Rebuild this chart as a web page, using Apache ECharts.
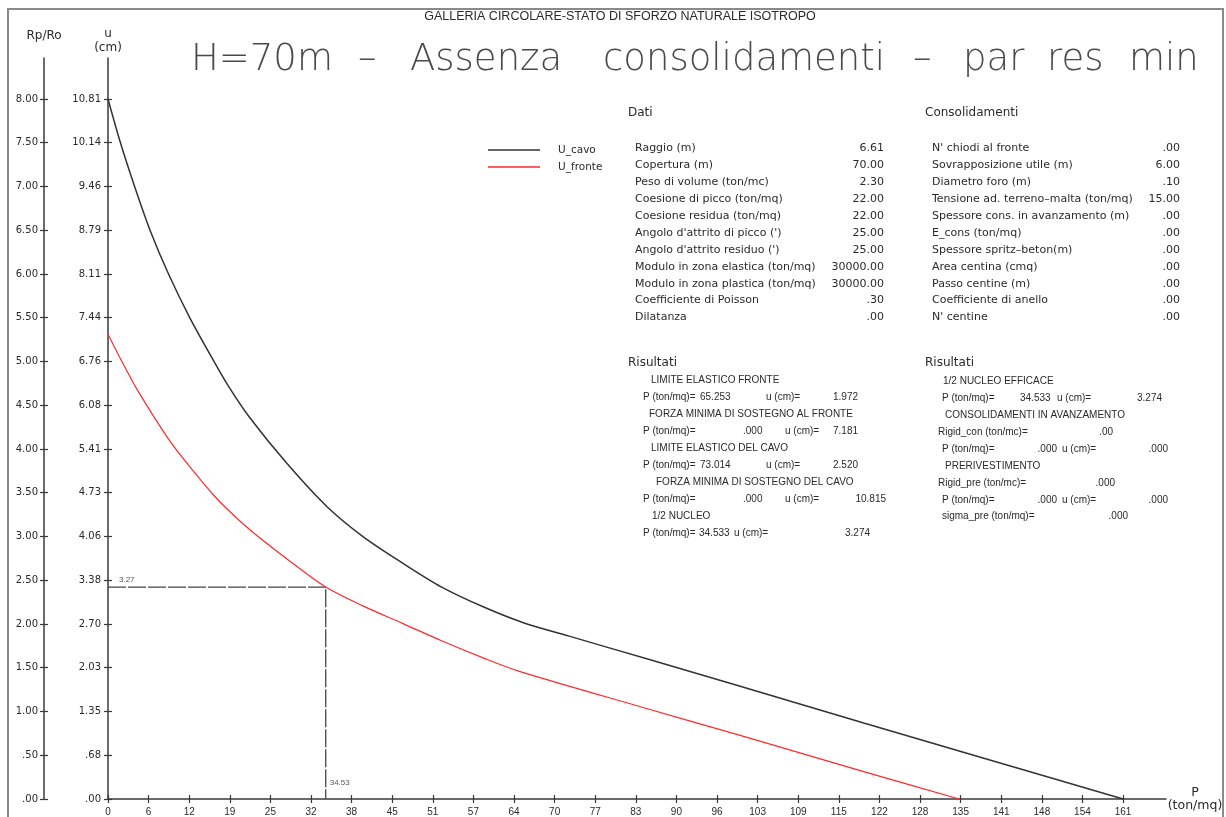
<!DOCTYPE html>
<html><head><meta charset="utf-8">
<script src="https://cdn.jsdelivr.net/npm/echarts@6/dist/echarts.min.js"></script>
<style>html,body{margin:0;padding:0;background:#fff}#c{width:1226px;height:817px}</style>
</head><body><div id="c"></div>
<script>
// ---------- data ----------
const pTickLabels = ['0','6','12','19','25','32','38','45','51','57','64','70','77','83','90','96','103','109','115','122','128','135','141','148','154','161'];
const uTickLabels = ['.00','.68','1.35','2.03','2.70','3.38','4.06','4.73','5.41','6.08','6.76','7.44','8.11','8.79','9.46','10.14','10.81'];
const rpTickLabels = ['.00','.50','1.00','1.50','2.00','2.50','3.00','3.50','4.00','4.50','5.00','5.50','6.00','6.50','7.00','7.50','8.00'];
const pTopTick = 161, uTopTick = 10.815, rpTopTick = 8;

const cavoP = [0, 2.0, 4.3, 6.7, 9.6, 13.0, 16.7, 19.1, 22.5, 28.5, 34.7, 40.5, 46.8, 53.0, 59.5, 66.0, 73.014, 86, 100, 120, 140, 161];
const cavoU = [10.815, 10.13, 9.44, 8.78, 8.11, 7.43, 6.78, 6.38, 5.89, 5.17, 4.52, 4.05, 3.64, 3.27, 2.97, 2.72, 2.520, 2.15, 1.75, 1.17, 0.60, 0];

const fronteP = [0, 2.2, 4.65, 9.6, 13.0, 16.7, 19.1, 22.5, 28.5, 34.533, 40.5, 46.8, 53.0, 59.5, 65.253, 85, 100, 120, 135];
const fronteU = [7.181, 6.76, 6.32, 5.56, 5.13, 4.70, 4.46, 4.16, 3.70, 3.274, 2.98, 2.71, 2.44, 2.18, 1.972, 1.41, 0.99, 0.42, 0];

const nucleoP = 34.533, nucleoU = 3.274;

const seriesNames = ['U_cavo', 'U_fronte'];

const subTitle = 'GALLERIA CIRCOLARE-STATO DI SFORZO NATURALE ISOTROPO';
const titleWords = ['H=70m', '\u2013', 'Assenza', 'consolidamenti', '\u2013', 'par', 'res', 'min'];

const datiLabels = ['Raggio (m)','Copertura (m)','Peso di volume (ton/mc)','Coesione di picco (ton/mq)','Coesione residua (ton/mq)',"Angolo d'attrito di picco (')","Angolo d'attrito residuo (')",'Modulo in zona elastica (ton/mq)','Modulo in zona plastica (ton/mq)','Coefficiente di Poisson','Dilatanza'];
const datiValues = ['6.61','70.00','2.30','22.00','22.00','25.00','25.00','30000.00','30000.00','.30','.00'];
const consLabels = ["N' chiodi al fronte",'Sovrapposizione utile (m)','Diametro foro (m)','Tensione ad. terreno\u2013malta (ton/mq)','Spessore cons. in avanzamento (m)','E_cons (ton/mq)','Spessore spritz\u2013beton(m)','Area centina (cmq)','Passo centine (m)','Coefficiente di anello',"N' centine"];
const consValues = ['.00','6.00','.10','15.00','.00','.00','.00','.00','.00','.00','.00'];

// ---------- helpers ----------
const pStep = pTopTick / (pTickLabels.length - 1);
const uStep = uTopTick / (uTickLabels.length - 1);
const rpStep = rpTopTick / (rpTickLabels.length - 1);
const pTicks = pTickLabels.map((_, i) => i * pStep);
const uTicks = uTickLabels.map((_, i) => i * uStep);
const rpTicks = rpTickLabels.map((_, i) => i * rpStep);
// axis lines run a bit past the last tick, as in the drawing
const pAxisMax = pTopTick * 1.0423;
const uAxisMax = uTopTick * 1.0585;
const rpAxisMax = rpTopTick * 1.0585;

const AX = '#3a3a3a';
const TXT = '#2a2a2a';
const F_TAB = "'DejaVu Sans', sans-serif";
const F_RES = "'Liberation Sans', Arial, sans-serif";

function txt(text, x, y, opt) {
  opt = opt || {};
  return {
    type: 'text', x: x, y: y, z: 10, silent: true,
    style: {
      text: text,
      fill: opt.fill || TXT,
      font: opt.font || ('11px ' + F_TAB),
      align: opt.align || 'left', textAlign: opt.align || 'left',
      verticalAlign: 'middle', textVerticalAlign: 'middle'
    }
  };
}

const graphics = [];
// frame
graphics.push({ type: 'rect', silent: true, z: 0, shape: { x: 8, y: 9, width: 1215, height: 830 }, style: { fill: 'none', stroke: '#8a8a8a', lineWidth: 2 } });
// subtitle
graphics.push(txt(subTitle, 620, 17, { align: 'center', font: "12.5px 'Liberation Sans Narrow', 'Liberation Sans', sans-serif" }));
// big title, word by word
const titleX = [191, 358, 410, 603, 913, 963, 1047, 1129];
titleWords.forEach((w, i) => graphics.push(txt(w, titleX[i], 60, { font: "200 37px 'DejaVu Sans ExtraLight', 'DejaVu Sans', sans-serif", fill: '#4a4a4a' })));

// Dati table
graphics.push(txt('Dati', 628, 113, { font: '12px ' + F_TAB }));
datiLabels.forEach((t, i) => {
  const y = 148 + i * 16.96;
  graphics.push(txt(t, 635, y));
  graphics.push(txt(datiValues[i], 884, y, { align: 'right' }));
});
// Consolidamenti table
graphics.push(txt('Consolidamenti', 925, 113, { font: '12px ' + F_TAB }));
consLabels.forEach((t, i) => {
  const y = 148 + i * 16.96;
  graphics.push(txt(t, 932, y));
  graphics.push(txt(consValues[i], 1180, y, { align: 'right' }));
});

// Risultati (left)
const rf = '10px ' + F_RES;
const rfP = '10px ' + F_RES;
graphics.push(txt('Risultati', 628, 363, { font: '12px ' + F_TAB }));
graphics.push(txt('LIMITE ELASTICO FRONTE', 651, 380, { font: rf }));
graphics.push(txt('P (ton/mq)=', 643, 397, { font: rfP }), txt('65.253', 700, 397, { font: rfP }), txt('u (cm)=', 766, 397, { font: rfP }), txt('1.972', 858, 397, { font: rfP, align: 'right' }));
graphics.push(txt('FORZA MINIMA DI SOSTEGNO AL FRONTE', 649, 414, { font: rf }));
graphics.push(txt('P (ton/mq)=', 643, 431, { font: rfP }), txt('.000', 743, 431, { font: rfP }), txt('u (cm)=', 785, 431, { font: rfP }), txt('7.181', 858, 431, { font: rfP, align: 'right' }));
graphics.push(txt('LIMITE ELASTICO DEL CAVO', 651, 448, { font: rf }));
graphics.push(txt('P (ton/mq)=', 643, 465, { font: rfP }), txt('73.014', 700, 465, { font: rfP }), txt('u (cm)=', 766, 465, { font: rfP }), txt('2.520', 858, 465, { font: rfP, align: 'right' }));
graphics.push(txt('FORZA MINIMA DI SOSTEGNO DEL CAVO', 656, 482, { font: rf }));
graphics.push(txt('P (ton/mq)=', 643, 499, { font: rfP }), txt('.000', 743, 499, { font: rfP }), txt('u (cm)=', 785, 499, { font: rfP }), txt('10.815', 886, 499, { font: rfP, align: 'right' }));
graphics.push(txt('1/2 NUCLEO', 652, 516, { font: rf }));
graphics.push(txt('P (ton/mq)=', 643, 533, { font: rfP }), txt('34.533', 699, 533, { font: rfP }), txt('u (cm)=', 734, 533, { font: rfP }), txt('3.274', 870, 533, { font: rfP, align: 'right' }));

// Risultati (right)
graphics.push(txt('Risultati', 925, 363, { font: '12px ' + F_TAB }));
graphics.push(txt('1/2 NUCLEO EFFICACE', 943, 381, { font: rf }));
graphics.push(txt('P (ton/mq)=', 942, 398, { font: rfP }), txt('34.533', 1020, 398, { font: rfP }), txt('u (cm)=', 1057, 398, { font: rfP }), txt('3.274', 1162, 398, { font: rfP, align: 'right' }));
graphics.push(txt('CONSOLIDAMENTI IN AVANZAMENTO', 945, 415, { font: rf }));
graphics.push(txt('Rigid_con (ton/mc)=', 938, 432, { font: rfP }), txt('.00', 1113, 432, { font: rfP, align: 'right' }));
graphics.push(txt('P (ton/mq)=', 942, 449, { font: rfP }), txt('.000', 1057, 449, { font: rfP, align: 'right' }), txt('u (cm)=', 1062, 449, { font: rfP }), txt('.000', 1168, 449, { font: rfP, align: 'right' }));
graphics.push(txt('PRERIVESTIMENTO', 945, 466, { font: rf }));
graphics.push(txt('Rigid_pre (ton/mc)=', 938, 483, { font: rfP }), txt('.000', 1115, 483, { font: rfP, align: 'right' }));
graphics.push(txt('P (ton/mq)=', 942, 500, { font: rfP }), txt('.000', 1057, 500, { font: rfP, align: 'right' }), txt('u (cm)=', 1062, 500, { font: rfP }), txt('.000', 1168, 500, { font: rfP, align: 'right' }));
graphics.push(txt('sigma_pre (ton/mq)=', 942, 516, { font: rfP }), txt('.000', 1128, 516, { font: rfP, align: 'right' }));

// ---------- axes ----------
const lineStyle = { color: AX, width: 1.5 };
function xAx(inside) {
  return {
    type: 'value', min: 0, max: pAxisMax, position: 'bottom',
    axisLine: { show: !inside, lineStyle: lineStyle },
    axisTick: { show: true, inside: inside, length: 4, lineStyle: { color: AX, width: 1.2 }, customValues: pTicks },
    axisLabel: inside ? { show: false } : {
      show: true, customValues: pTicks, margin: 8, color: TXT,
      fontFamily: F_RES, fontSize: 10,
      formatter: v => pTickLabels[Math.round(v / pStep)]
    },
    splitLine: { show: false },
    name: inside ? '' : 'P\n(ton/mq)', nameLocation: 'end', nameGap: 29,
    nameTextStyle: { color: TXT, fontFamily: F_TAB, fontSize: 12.5, lineHeight: 13, align: 'center', verticalAlign: 'middle' }
  };
}
function yAx(ticks, labels, step, max, offset, inside, name, margin, nameGap) {
  return {
    type: 'value', min: 0, max: max, position: 'left', offset: offset,
    axisLine: { show: !inside, onZero: false, lineStyle: lineStyle },
    axisTick: { show: true, inside: inside, length: 4, lineStyle: { color: AX, width: 1.2 }, customValues: ticks },
    axisLabel: inside ? { show: false } : {
      show: true, customValues: ticks, margin: margin, color: TXT,
      fontFamily: F_TAB, fontSize: 10,
      formatter: v => labels[Math.round(v / step)]
    },
    splitLine: { show: false },
    name: inside ? '' : name, nameLocation: 'end', nameGap: nameGap,
    nameTextStyle: { color: TXT, fontFamily: F_TAB, fontSize: 12, lineHeight: 14, align: 'center' }
  };
}

const chart = echarts.init(document.getElementById('c'), null, { renderer: 'canvas' });
chart.setOption({
  animation: false,
  backgroundColor: '#fff',
  grid: { left: 108, top: 58, right: 60, bottom: 18, containLabel: false, outerBoundsMode: 'none' },
  xAxis: [xAx(false), xAx(true)],
  yAxis: [
    yAx(uTicks, uTickLabels, uStep, uAxisMax, 0, false, 'u\n(cm)', 7, 3),
    yAx(uTicks, uTickLabels, uStep, uAxisMax, 0, true, '', 0, 0),
    yAx(rpTicks, rpTickLabels, rpStep, rpAxisMax, 64, false, 'Rp/Ro', 6, 15),
    yAx(rpTicks, rpTickLabels, rpStep, rpAxisMax, 64, true, '', 0, 0)
  ],
  legend: {
    data: seriesNames, orient: 'vertical', left: 483, top: 139,
    icon: 'rect', itemWidth: 52, itemHeight: 1.5, itemGap: 5,
    textStyle: { color: TXT, fontFamily: F_TAB, fontSize: 10.5, lineHeight: 12, padding: [0, 0, 0, 13] }
  },
  graphic: graphics,
  series: [
    {
      name: seriesNames[0], type: 'line', xAxisIndex: 0, yAxisIndex: 0,
      data: cavoP.map((p, i) => [p, cavoU[i]]),
      smooth: 0.3, showSymbol: false, symbol: 'none',
      color: '#333', itemStyle: { color: '#333' }, lineStyle: { color: '#333', width: 1.5 }, z: 3
    },
    {
      name: seriesNames[1], type: 'line', xAxisIndex: 0, yAxisIndex: 0,
      data: fronteP.map((p, i) => [p, fronteU[i]]),
      smooth: 0.3, showSymbol: false, symbol: 'none',
      color: '#ff2a2a', itemStyle: { color: '#ff2a2a' }, lineStyle: { color: '#ff2a2a', width: 1.2 }, z: 3
    },
    {
      name: 'nucleo', type: 'line', xAxisIndex: 0, yAxisIndex: 0,
      data: [[0, nucleoU], [nucleoP, nucleoU], [nucleoP, 0]],
      showSymbol: false, symbol: 'none', silent: true,
      lineStyle: { color: '#444', width: 1.3, type: [18, 2] }, z: 2
    },
    {
      name: 'nucleoLabels', type: 'scatter', xAxisIndex: 0, yAxisIndex: 0,
      symbolSize: 0, silent: true,
      data: [
        { value: [0, nucleoU], label: { show: true, formatter: nucleoU.toFixed(2), position: [11, -7], align: 'left', verticalAlign: 'middle' } },
        { value: [nucleoP, 0], label: { show: true, formatter: nucleoP.toFixed(2), position: [4, -16], align: 'left', verticalAlign: 'middle' } }
      ],
      label: { color: TXT, fontFamily: F_RES, fontSize: 8 }
    }
  ]
});
</script>
</body></html>
